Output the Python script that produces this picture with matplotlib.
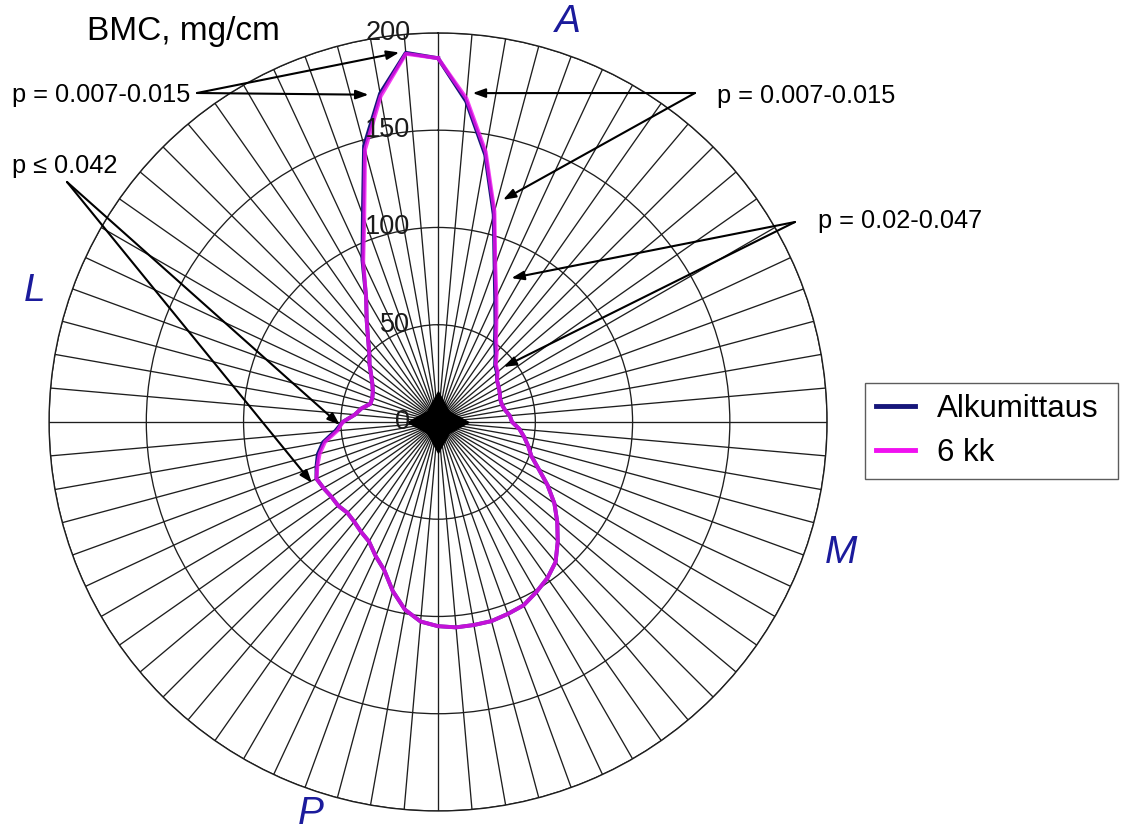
import numpy as np
import matplotlib.pyplot as plt

plt.rcParams['font.family'] = ['Liberation Sans', 'DejaVu Sans']

# BMC profile around the bone cross-section, one value every 5 degrees
angles_deg = np.arange(0, 360, 5)
bmc_6kk = [187, 167, 141, 112, 86, 71, 60, 52, 47, 42, 40, 37,
           36, 35, 34, 34, 35, 37, 38, 42, 45, 48, 51, 57,
           65, 73, 80, 87, 94, 98, 101, 104, 105, 106, 106, 106,
           105, 103, 98, 90, 81, 76, 71, 69, 67, 66, 67, 67,
           68, 69, 66, 63, 59, 52, 49, 43, 40, 36, 36, 37,
           39, 42, 46, 50, 56, 64, 74, 91, 111, 145, 170, 190]
bmc_alku = [187, 165.5, 139.5, 110.5, 85, 69.5, 59, 51, 46, 41.5, 39.5, 37,
            36, 35, 34, 34, 35, 37, 38, 42, 45, 48, 51, 57,
            65, 73, 80, 87, 94, 98, 101, 104, 105, 106, 106, 106,
            105, 103, 98, 90, 81, 76, 71, 69, 67, 66, 67, 67,
            68, 69, 66.5, 64, 60, 53, 49, 43, 40, 36, 36, 37,
            39, 42, 46, 50, 56, 64, 74, 92, 113, 147, 171.5, 190.5]

rings = [0, 50, 100, 150, 200]
sides = ['A', 'M', 'P', 'L']
side_angles = [18, 108, 198, 288]
side_radius = [216, 218, 212, 218]

# p-value notes: text, arrow targets (angle, radius)
p_labels = ['p = 0.007-0.015', 'p = 0.007-0.015', 'p = 0.02-0.047', 'p \u2264 0.042']
p_targets = [[(354, 191), (348, 172)],
             [(6, 170), (16.3, 119)],
             [(27, 83), (50, 44)],
             [(268.2, 50.5), (244.2, 72)]]


def closed(vals):
    return np.append(vals, vals[0])


W, H = 1125, 834
fig = plt.figure(figsize=(W / 100, H / 100), dpi=100)
ax = fig.add_axes([0.0436, 0.0276, 0.6916, 0.9329], projection='polar')
ax.set_theta_zero_location('N')
ax.set_theta_direction(-1)
ax.set_ylim(0, 200)
ax.set_thetagrids(angles_deg, labels=[])
ax.set_rgrids(rings[1:], labels=[])
ax.grid(True, color='#1e1e1e', lw=0.95)
ax.tick_params(length=0)
ax.spines['polar'].set_color('#1e1e1e')
ax.spines['polar'].set_linewidth(1.0)

th = np.deg2rad(np.append(angles_deg, 360))
ax.plot(th, closed(bmc_alku), color='#16167a', lw=2.8, label='Alkumittaus', zorder=3)
ax.plot(th, closed(bmc_6kk), color='#f010f0', lw=2.8, alpha=0.8, label='6 kk', zorder=4)

# hub where the spokes meet
ax.plot(0, 0, marker=(4, 1, 0), ms=44, color='black', zorder=2)
ax.plot(0, 0, marker='D', ms=17, color='black', zorder=2)

for v in rings:
    ax.annotate(str(v), xy=(0, v), xytext=(-20, 0), textcoords='offset points',
                ha='right', va='center', fontsize=19.5, color='#1a1a1a', zorder=5)

for s, a, r in zip(sides, side_angles, side_radius):
    ax.text(np.deg2rad(a), r, s, ha='center', va='center', fontsize=28,
            style='italic', color='#1b1b9c', clip_on=False)

fig.text(87 / W, 1 - 40 / H, 'BMC, mg/cm', fontsize=24, ha='left', va='baseline')

text_pos = [(12, 102), (717, 103), (818, 228), (12, 173)]
arrow_from = [(197, 93), (695, 93), (795, 222), (67, 182)]
for lab, (tx, ty), (sx, sy), targets in zip(p_labels, text_pos, arrow_from, p_targets):
    fig.text(tx / W, 1 - ty / H, lab, fontsize=18.3, ha='left', va='baseline')
    for ang, r in targets:
        ax.annotate('', xy=(np.deg2rad(ang), r), xycoords='data',
                    xytext=(sx, H - sy), textcoords='figure pixels',
                    arrowprops=dict(arrowstyle='-|>,head_length=0.5,head_width=0.18',
                                    mutation_scale=15, color='black', lw=1.5,
                                    shrinkA=0, shrinkB=0), zorder=6)

leg = ax.legend(loc='upper left', bbox_to_anchor=(865 / W, 1 - 383 / H, 253 / W, 0),
                bbox_transform=fig.transFigure, mode='expand', fontsize=22.5,
                handlelength=1.25, handletextpad=0.7, labelspacing=0.45,
                borderpad=0.35, borderaxespad=0, fancybox=False, edgecolor='#333333')
leg.get_frame().set_linewidth(1.0)
for line in leg.get_lines():
    line.set_linewidth(3.5)
    line.set_alpha(1)

fig.savefig('out.png', dpi=100)
